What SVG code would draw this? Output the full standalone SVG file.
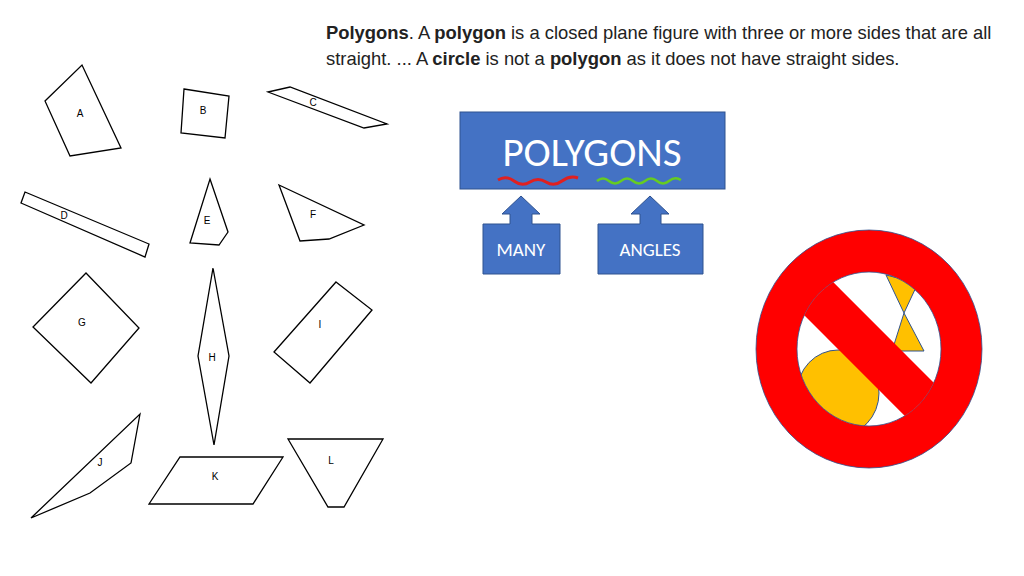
<svg xmlns="http://www.w3.org/2000/svg" width="1024" height="576" viewBox="0 0 1024 576">
<style>
.p{fill:#fff;stroke:#000;stroke-width:1.3}
.l{font-family:"Liberation Sans",Arial,sans-serif;font-size:10px;fill:#000;text-anchor:middle}
.b{fill:#4472c4;stroke:#2f528f;stroke-width:1}
.w{font-family:Calibri,"Liberation Sans",sans-serif;fill:#fff;text-anchor:middle}
.h{font-family:"Liberation Sans",Arial,sans-serif;font-size:18.4px;fill:#222}
</style>
<defs><clipPath id="ic"><ellipse cx="869" cy="349" rx="72" ry="77"/></clipPath></defs>
<rect width="1024" height="576" fill="#fff"/>
<text class="h" x="326" y="39"><tspan font-weight="bold">Polygons</tspan>. A <tspan font-weight="bold">polygon</tspan> is a closed plane figure with three or more sides that are all</text>
<text class="h" x="326" y="65">straight. ... A <tspan font-weight="bold">circle</tspan> is not a <tspan font-weight="bold">polygon</tspan> as it does not have straight sides.</text>
<g id="A"><polygon class="p" points="45,101 82,65 121,148 70,156"/><text class="l" x="80" y="117">A</text></g>
<g id="B"><polygon class="p" points="184,89 229,96 225,138 181,133"/><text class="l" x="203" y="114">B</text></g>
<g id="C"><polygon class="p" points="268,92 290,87 387,124 364,128"/><text class="l" x="313" y="106">C</text></g>
<g id="D"><polygon class="p" points="25,192 149,244 145,257 21,203"/><text class="l" x="64" y="219">D</text></g>
<g id="E"><polygon class="p" points="210,179 228,232 219,245 190,243"/><text class="l" x="207" y="224">E</text></g>
<g id="F"><polygon class="p" points="279,185 364,225 329,239 300,241"/><text class="l" x="313" y="218">F</text></g>
<g id="G"><polygon class="p" points="86,273 139,328 91,383 33,327"/><text class="l" x="82" y="326">G</text></g>
<g id="H"><polygon class="p" points="213,268 229,356 214,445 198,356"/><text class="l" x="212" y="361">H</text></g>
<g id="I"><polygon class="p" points="336,282 372,310 310,383 274,352"/><text class="l" x="320" y="328">I</text></g>
<g id="J"><polygon class="p" points="140,414 131,463 90,493 31,518"/><text class="l" x="100" y="466">J</text></g>
<g id="K"><polygon class="p" points="180,457 283,457 253,504 149,504"/><text class="l" x="215" y="480">K</text></g>
<g id="L"><polygon class="p" points="288,439 383,439 344,507 328,507"/><text class="l" x="331" y="464">L</text></g>
<g id="polygons"><rect class="b" x="460" y="112" width="265" height="77"/><text class="w" x="592" y="166" font-size="41">POLYGONS</text>
<path d="M498,180 q8,-5 16,1 t16,1 t16,0 t16,-1 t16,-3" fill="none" stroke="#e02020" stroke-width="3"/>
<path d="M597,181 q6,-5 12,0 t12,0 t12,0 t12,0 t12,0 t12,0 t12,-1" fill="none" stroke="#66cc22" stroke-width="2.5"/></g>
<g id="many"><path class="b" d="M483,224 H510 V214 H502 L521,196 L540,214 H532 V224 H560 V274 H483 Z"/><text class="w" x="521" y="256" font-size="19">MANY</text></g>
<g id="angles"><path class="b" d="M598,224 H640 V214 H631 L650,196 L669,214 H661 V224 H703 V274 H598 Z"/><text class="w" x="650" y="256" font-size="19">ANGLES</text></g>
<g id="nosign">
<g clip-path="url(#ic)" fill="#ffc000" stroke="#2f528f" stroke-width="1">
<ellipse cx="838" cy="393" rx="41" ry="43"/>
<polygon points="886,275 918,283 904,313"/>
<polygon points="904,313 924,351 892,351"/>
</g>
<path fill="#ff0000" fill-rule="evenodd" stroke="#2f528f" stroke-width="0.8" d="M756,349 a113,119 0 1,0 226,0 a113,119 0 1,0 -226,0 Z M797,349 a72,77 0 1,0 144,0 a72,77 0 1,0 -144,0 Z"/>
<g clip-path="url(#ic)"><rect x="780" y="327" width="180" height="44" fill="#ff0000" transform="rotate(45 869 349)"/></g>
</g>
</svg>
